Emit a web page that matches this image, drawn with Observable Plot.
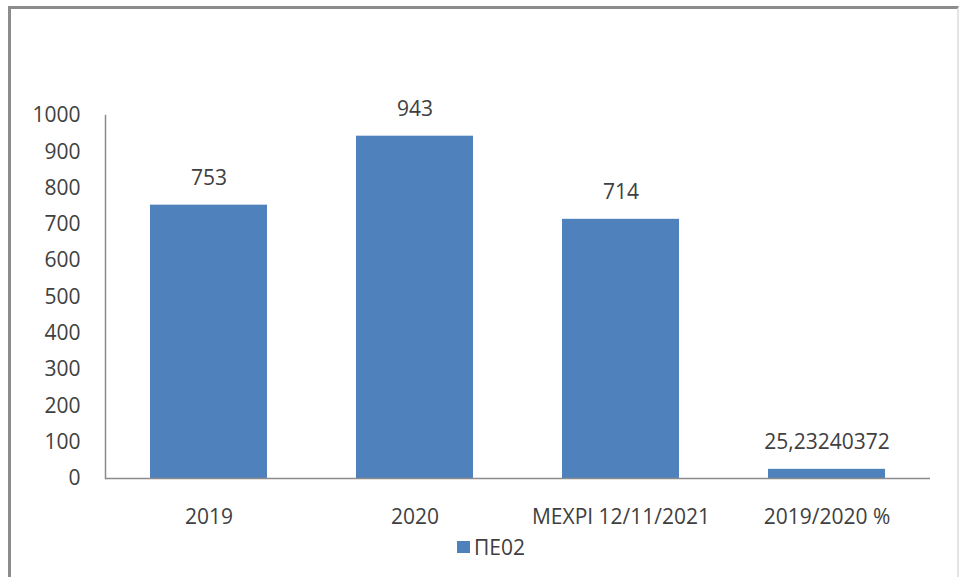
<!DOCTYPE html>
<html>
<head>
<meta charset="utf-8">
<script src="https://cdn.jsdelivr.net/npm/d3@7"></script>
<script src="https://cdn.jsdelivr.net/npm/@observablehq/plot@0.6"></script>
<style>
  html, body { margin: 0; padding: 0; background: #fff; overflow: hidden; }
  #wrap { position: relative; width: 962px; height: 577px; }
  #border { position: absolute; left: 8px; top: 6px; width: 946px; height: 600px;
    border-left: 3px solid #8c8c8c; border-top: 3px solid #8c8c8c; border-right: 2px solid #e4e4e4; }
  #chart { position: absolute; left: 0; top: 0; }
  #legend { position: absolute; left: 457px; top: 533px; display: flex; align-items: center;
    font-family: "Open Sans", sans-serif; font-size: 21px; color: #404040; }
  #legend .sw { width: 13px; height: 12px; background: #4F81BD; margin-right: 4px; }
</style>
</head>
<body>
<div id="wrap">
  <div id="border"></div>
  <div id="chart"></div>
  <div id="legend"><div class="sw"></div><span id="legtext"></span></div>
</div>
<script>
const categories = ["2019", "2020", "ΜΕΧΡΙ 12/11/2021", "2019/2020 %"];
const values = [753, 943, 714, 25.23240372];
const valueLabels = ["753", "943", "714", "25,23240372"];
const yTicks = [0, 100, 200, 300, 400, 500, 600, 700, 800, 900, 1000];
const seriesName = "ΠΕ02";
const barColor = "#4F81BD";

const data = categories.map((c, i) => ({cat: c, value: values[i], label: valueLabels[i]}));

const chart = Plot.plot({
  width: 962,
  height: 577,
  marginLeft: 105,
  marginRight: 32,
  marginTop: 115,
  marginBottom: 99,
  style: {fontFamily: "'Open Sans', sans-serif", background: "transparent"},
  x: {domain: categories, paddingInner: 0.43, paddingOuter: 0.215, axis: null},
  y: {domain: [0, 1000], axis: null},
  marks: [
    Plot.barY(data, {x: "cat", y: "value", fill: barColor}),
    Plot.axisY(yTicks, {tickSize: 0, tickPadding: 25, fontSize: 21, fill: "#404040", label: null, tickFormat: d => String(d)}),
    Plot.axisX(categories, {tickSize: 0, tickPadding: 31, fontSize: 21, fill: "#404040", label: null}),
    Plot.frame({anchor: "left", stroke: "#8c8c8c", strokeWidth: 1.5}),
    Plot.ruleY([0], {stroke: "#8c8c8c", strokeWidth: 1.5}),
    Plot.text(data, {x: "cat", y: "value", text: "label", dy: -27, fontSize: 21, fill: "#404040"})
  ]
});
document.getElementById("chart").appendChild(chart);
document.getElementById("legtext").textContent = seriesName;
</script>
</body>
</html>
